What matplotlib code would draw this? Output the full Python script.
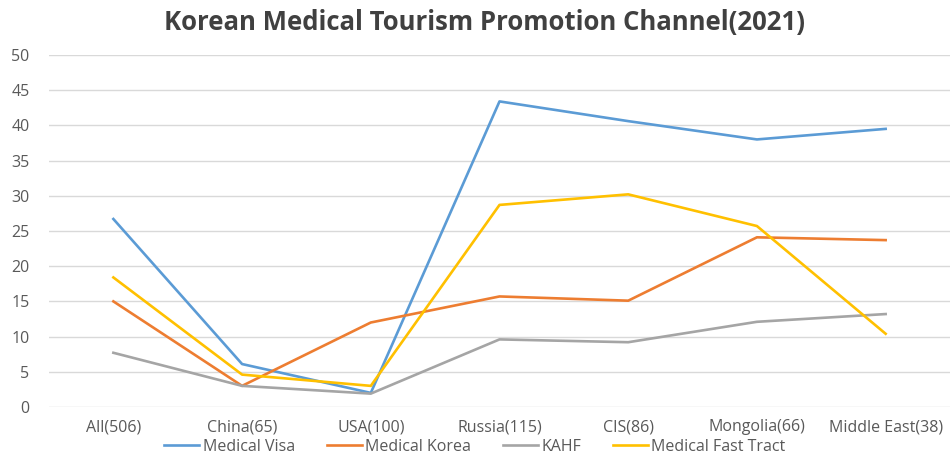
import matplotlib
matplotlib.use('Agg')
import matplotlib.pyplot as plt

categories = ['All(506)', 'China(65)', 'USA(100)', 'Russia(115)', 'CIS(86)', 'Mongolia(66)', 'Middle East(38)']
medical_visa = [26.7, 6.1, 2.0, 43.4, 40.6, 38.0, 39.5]
medical_korea = [15.0, 3.0, 12.0, 15.7, 15.1, 24.1, 23.7]
kahf = [7.7, 3.0, 1.9, 9.6, 9.2, 12.1, 13.2]
medical_fast = [18.4, 4.6, 3.0, 28.7, 30.2, 25.7, 10.4]
series_names = ['Medical Visa', 'Medical Korea', 'KAHF', 'Medical Fast Tract']
colores = ['#5B9BD5', '#ED7D31', '#A5A5A5', '#FFC000']

plt.rcParams['font.family'] = ['Open Sans', 'DejaVu Sans']

fig = plt.figure(figsize=(9.5, 4.59), dpi=100)
ax = fig.add_axes([0.0516, 0.1133, 0.9484, 0.767])

x = range(len(categories))
for valores, nombre, color in zip([medical_visa, medical_korea, kahf, medical_fast], series_names, colores):
    ax.plot(x, valores, color=color, linewidth=1.9, label=nombre)

ax.set_xlim(-0.5, len(categories) - 0.5)
ax.set_ylim(0, 50)
ax.set_yticks(range(0, 51, 5))
ax.set_xticks(list(x))
ax.set_xticklabels(categories)
ax.grid(axis='y', color='#D9D9D9', linewidth=1)
ax.set_axisbelow(True)
for s in ax.spines.values():
    s.set_visible(False)
ax.tick_params(axis='both', length=0, colors='#595959', labelsize=11.5)
ax.tick_params(axis='y', pad=14)
ax.tick_params(axis='x', pad=9)

fig.text(0.51, 0.95, 'Korean Medical Tourism Promotion Channel(2021)', ha='center', va='center',
         fontsize=18.5, fontweight='bold', color='#404040')

fig.legend(loc='center', bbox_to_anchor=(0.5, 0.026), ncol=4, frameon=False, fontsize=11.5,
           handlelength=2.2, handletextpad=0.2, columnspacing=2.0, labelcolor='#595959')

plt.savefig('out.png', format='png')
plt.close()
